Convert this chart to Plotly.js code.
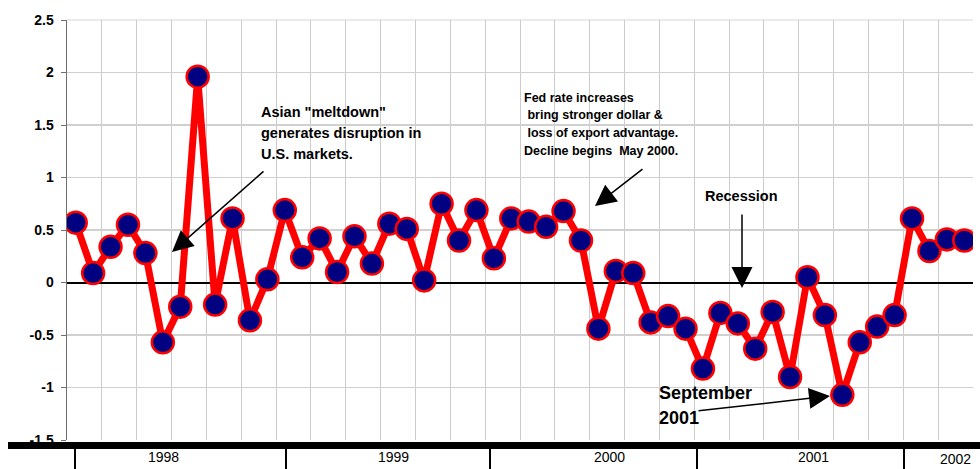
<!DOCTYPE html>
<html>
<head>
<meta charset="utf-8">
<script src="https://cdn.plot.ly/plotly-3.0.1.min.js"></script>
<style>
  html, body { margin: 0; padding: 0; background: #ffffff; }
  #chart { width: 980px; height: 469px; }
</style>
</head>
<body>
<div id="chart"></div>
<script>
// Monthly values, Jan 1998 – Apr 2002
const values = [
  0.57, 0.09, 0.34, 0.55, 0.28, -0.57, -0.23, 1.96, -0.21, 0.61, -0.36, 0.03,
  0.69, 0.24, 0.42, 0.10, 0.44, 0.18, 0.56, 0.51, 0.02, 0.75, 0.40, 0.69,
  0.23, 0.61, 0.58, 0.53, 0.68, 0.40, -0.44, 0.11, 0.09, -0.38, -0.32, -0.44,
  -0.82, -0.29, -0.39, -0.63, -0.28, -0.90, 0.05, -0.31, -1.07, -0.57, -0.42, -0.31,
  0.61, 0.30, 0.41, 0.40
];
const yearLabels = ['1998', '1999', '2000', '2001', '2002'];
const yTickVals = [-1.5, -1, -0.5, 0, 0.5, 1, 1.5, 2, 2.5];
const yTickText = ['-1.5', '-1', '-0.5', '0', '0.5', '1', '1.5', '2', '2.5'];

const asianText = ['Asian "meltdown"', 'generates disruption in', 'U.S. markets.'];
const fedText = ['Fed rate increases', ' bring stronger dollar &', ' loss of export advantage.', 'Decline begins  May 2000.'];
const recessionText = 'Recession';
const septText = ['September', '2001'];

const xIdx = values.map((_, i) => i);

// layout geometry helpers (pixel -> paper)
const W = 980, H = 469, L = 67, R = 7, T = 20, B = 29;
const PW = W - L - R, PH = H - T - B;
const px = x => (x - L) / PW;
const py = y => (H - B - y) / PH;
const pxData = x => (x - L) / PW * 52 - 0.5;

const FONT = 'Liberation Sans, Arial, sans-serif';

const trace = {
  x: xIdx, y: values, type: 'scatter', mode: 'lines+markers',
  line: { color: '#ff0000', width: 7 },
  marker: { size: 22, color: '#000080', line: { color: '#ff0000', width: 2.5 } },
  hoverinfo: 'skip', showlegend: false
};

const annotations = [];
function textLine(t, x, y, size, anchor) {
  annotations.push({
    text: t, xref: 'paper', yref: 'paper', x: px(x), y: py(y),
    xanchor: anchor || 'left', yanchor: 'middle', showarrow: false,
    font: { family: FONT, size: size, color: '#000', weight: 'bold' }
  });
}
asianText.forEach((t, i) => textLine(t, 259, 112 + i * 21, 14.5));
fedText.forEach((t, i) => textLine(t, 522, 98 + i * 17.5, 12.5));
textLine(recessionText, 741, 196, 14.5, 'center');
septText.forEach((t, i) => textLine(t, 657, 393 + i * 25, 18));

function arrow(hx, hy, tx, ty) {
  annotations.push({
    text: '', xref: 'paper', yref: 'paper', x: px(hx), y: py(hy),
    ax: tx - hx, ay: ty - hy, showarrow: true, arrowhead: 2,
    arrowsize: 2.8, arrowwidth: 1.5, arrowcolor: '#000', standoff: 0
  });
}
arrow(172, 252, 265, 170);
arrow(595, 206, 644, 168);
arrow(742, 288, 742, 213);
arrow(830, 396, 697, 411);

// year labels along the bottom
const yearLabelPx = [[163, 457], [393, 457], [609, 457], [813, 457], [955, 459]];
yearLabels.forEach((t, i) => {
  annotations.push({
    text: t, xref: 'paper', yref: 'paper',
    x: px(yearLabelPx[i][0]), y: py(yearLabelPx[i][1]),
    xanchor: 'center', yanchor: 'middle', showarrow: false,
    font: { family: FONT, size: 14, color: '#000' }
  });
});

const shapes = [
  // top border
  { type: 'line', xref: 'paper', yref: 'paper', x0: 0, x1: 1, y0: 1, y1: 1,
    line: { color: '#ebebeb', width: 2 }, layer: 'below' },
  // bottom thick band
  { type: 'rect', xref: 'paper', yref: 'paper', x0: px(8), x1: px(981), y0: py(449), y1: py(442),
    fillcolor: '#000', line: { width: 0 }, layer: 'above' }
];
[75, 286, 490, 697, 904].forEach(p => {
  shapes.push({ type: 'line', xref: 'x', yref: 'paper', x0: pxData(p), x1: pxData(p),
    y0: py(442), y1: py(470), line: { color: '#000', width: 2 }, layer: 'above' });
});

const layout = {
  width: W, height: H,
  margin: { l: L, r: R, t: T, b: B, pad: 0 },
  paper_bgcolor: '#ffffff', plot_bgcolor: '#ffffff',
  font: { family: FONT, color: '#000' },
  xaxis: {
    range: [-0.5, 51.5], tick0: -0.5, dtick: 2, showgrid: true,
    gridcolor: '#cccccc', gridwidth: 1, showticklabels: false, ticks: '',
    zeroline: false, showline: false, fixedrange: true
  },
  yaxis: {
    range: [-1.5, 2.5], tickvals: yTickVals, ticktext: yTickText,
    showgrid: true, gridcolor: '#d0d0d0', gridwidth: 1.5,
    zeroline: true, zerolinecolor: '#000000', zerolinewidth: 2,
    showline: true, linecolor: '#707070', linewidth: 1.5,
    ticks: 'outside', ticklen: 5, tickcolor: '#707070', tickwidth: 1,
    ticklabelstandoff: 4,
    tickfont: { family: FONT, size: 14, color: '#000', weight: 'bold' },
    fixedrange: true
  },
  shapes: shapes,
  annotations: annotations,
  showlegend: false
};

Plotly.newPlot('chart', [trace], layout, { displayModeBar: false, staticPlot: true });
</script>
</body>
</html>
